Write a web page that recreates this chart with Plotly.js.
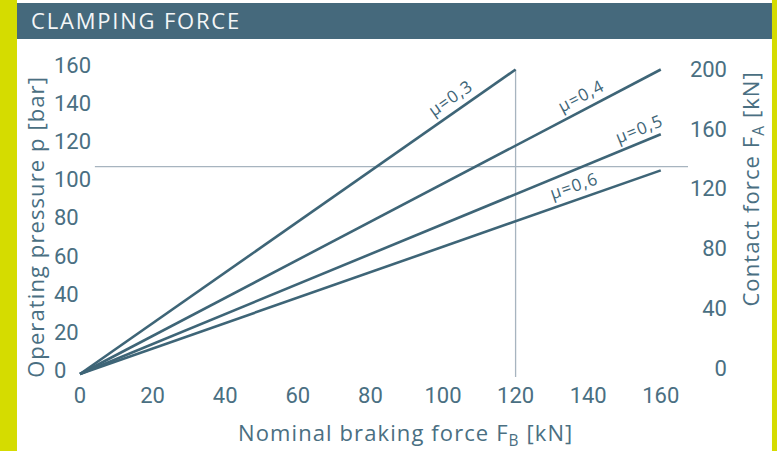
<!DOCTYPE html>
<html>
<head>
<meta charset="utf-8">
<script src="https://cdn.plot.ly/plotly-3.0.1.min.js"></script>
<style>
html,body{margin:0;padding:0;background:#fff;}
#chart{width:777px;height:451px;}
#chart .gtitle{letter-spacing:1.8px;}
#chart .annotation-text{letter-spacing:1.1px;}
</style>
</head>
<body>
<div id="chart"></div>
<script>
// ---- data ----
const muLabels = ['μ=0,3', 'μ=0,4', 'μ=0,5', 'μ=0,6'];
const fbStart = [0, 0, 0, 0];            // nominal braking force F_B [kN] at line start
const fbEnd = [120, 160, 160, 160];      // F_B [kN] at line end
const pStart = [0, 0, 0, 0];             // operating pressure p [bar] at start
const pEnd = [160, 160, 126, 107];       // operating pressure p [bar] at end
const labelFB = [102, 138, 154, 136];    // F_B where each μ label sits
const refFB = 120;                        // vertical reference line (kN)
const refP = 109;                         // horizontal reference line (bar)
const xTickVals = [0, 20, 40, 60, 80, 100, 120, 140, 160];
const pTickVals = [0, 20, 40, 60, 80, 100, 120, 140, 160];
const faTickVals = [0, 40, 80, 120, 160, 200];

const lineColor = '#3e6577';
const textColor = '#4a6f82';
const refColor = '#a7b4bf';
const tickFont = {family: 'Roboto, sans-serif', size: 22, color: textColor};
const titleFont = {family: 'Open Sans, sans-serif', size: 22, color: textColor};

const traces = muLabels.map((m, i) => ({
  type: 'scatter', mode: 'lines', name: m,
  x: [fbStart[i], fbEnd[i]], y: [pStart[i], pEnd[i]],
  line: {color: lineColor, width: 2.6}, xaxis: 'x', yaxis: 'y', hoverinfo: 'skip'
}));
traces.push({type: 'scatter', mode: 'lines', x: [], y: [], yaxis: 'y2', showlegend: false, hoverinfo: 'skip'});

function lineP(i, fb) {
  return pStart[i] + (pEnd[i] - pStart[i]) * (fb - fbStart[i]) / (fbEnd[i] - fbStart[i]);
}
const labelAngles = [-35, -27.7, -21.9, -18.8];
const labelShift = [18, 15.5, 15, 15];
const annotations = muLabels.map((m, i) => ({
  x: labelFB[i], y: lineP(i, labelFB[i]), xref: 'x', yref: 'y',
  text: m, showarrow: false, textangle: labelAngles[i], yshift: labelShift[i],
  font: {family: 'Open Sans, sans-serif', size: 17, color: lineColor}
}));
annotations.push(
  {xref: 'paper', yref: 'paper', x: 0.518, y: -0.161, xanchor: 'center', yanchor: 'middle',
   text: 'Nominal braking force F<sub>B</sub> [kN]', showarrow: false, font: titleFont},
  {xref: 'paper', yref: 'paper', x: -0.0144, y: 0.458, xanchor: 'center', yanchor: 'middle',
   text: 'Operating pressure p [bar]', textangle: -90, showarrow: false, font: titleFont},
  {xref: 'paper', yref: 'paper', x: 1.0173, y: 0.5701, xanchor: 'center', yanchor: 'middle',
   text: 'Contact force F<sub>A</sub> [kN]', textangle: -90, showarrow: false, font: titleFont}
);

const shapes = [
  // yellow side strips
  {type: 'rect', xref: 'paper', yref: 'paper', x0: -0.0648, x1: -0.0403, y0: -0.22, y1: 1.14,
   fillcolor: '#d5dc00', line: {width: 0}, layer: 'below'},
  {type: 'rect', xref: 'paper', yref: 'paper', x0: 1.046, x1: 1.06, y0: -0.22, y1: 1.14,
   fillcolor: '#d5dc00', line: {width: 0}, layer: 'below'},
  // header bar
  {type: 'rect', xref: 'paper', yref: 'paper', x0: -0.0403, x1: 1.046, y0: 1.0179, y1: 1.1254,
   fillcolor: '#45697c', line: {width: 0}, layer: 'below'},
  // reference lines
  {type: 'line', xref: 'x', yref: 'y', x0: refFB, x1: refFB, y0: -1.6, y1: 160,
   line: {color: refColor, width: 1.3}, layer: 'below'},
  {type: 'line', xref: 'x', yref: 'y', x0: 4.1, x1: 167.5, y0: refP, y1: refP,
   line: {color: refColor, width: 1.3}, layer: 'below'}
];

const layout = {
  width: 777, height: 451,
  margin: {l: 45, r: 37, t: 45, b: 71},
  paper_bgcolor: '#ffffff', plot_bgcolor: 'rgba(0,0,0,0)',
  showlegend: false,
  title: {text: 'CLAMPING FORCE', x: 31 / 777, xref: 'container', xanchor: 'left',
          y: 1 - 21 / 451, yref: 'container', yanchor: 'middle',
          font: {family: 'Open Sans, sans-serif', size: 22, color: '#f4f6f7'}},
  xaxis: {domain: [0.03597, 0.94964], range: [-2.755, 172.18], tickvals: xTickVals,
          showgrid: false, zeroline: false, showline: false, ticks: '',
          tickfont: tickFont, anchor: 'y'},
  yaxis: {anchor: 'free', position: 0.0072, side: 'left', range: [-3.153, 172.88],
          tickvals: pTickVals, ticklabelposition: 'inside', ticklabeloverflow: 'allow',
          ticklabelshift: -4,
          showgrid: false, zeroline: false, showline: false, ticks: '', tickfont: tickFont},
  yaxis2: {anchor: 'free', overlaying: 'y', side: 'right', position: 0.9856,
           range: [-8.035, 216.27], tickvals: faTickVals,
           ticklabelposition: 'inside', ticklabeloverflow: 'allow',
           showgrid: false, zeroline: false, showline: false, ticks: '', tickfont: tickFont},
  shapes: shapes,
  annotations: annotations
};

Plotly.newPlot('chart', traces, layout, {staticPlot: true, displayModeBar: false});
</script>
</body>
</html>
